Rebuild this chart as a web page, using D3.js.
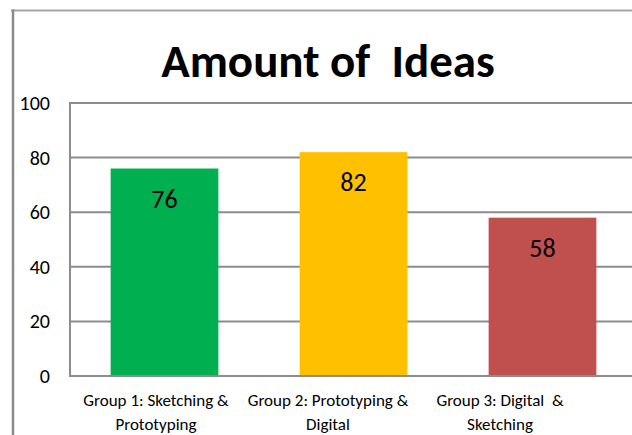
<!DOCTYPE html>
<html><head><meta charset="utf-8">
<script src="https://cdn.jsdelivr.net/npm/d3@7"></script>
<style>
html,body{margin:0;padding:0;background:#fff;overflow:hidden;}
svg{display:block;}
</style></head>
<body>
<svg id="c" width="632" height="435"></svg>
<script>
const categories = ["Group 1: Sketching & Prototyping", "Group 2: Prototyping & Digital", "Group 3: Digital  & Sketching"];
const labelLines = [["Group 1: Sketching &", "Prototyping"], ["Group 2: Prototyping &", "Digital"], ["Group 3: Digital  &", "Sketching"]];
const values = [76, 82, 58];
const colors = ["#00B050", "#FFC000", "#C0504D"];
const yTicks = [0, 20, 40, 60, 80, 100];
const title = "Amount of  Ideas";

const svg = d3.select("#c");
const font = "Carlito, Calibri, 'Open Sans', 'Liberation Sans', sans-serif";

// outer chart border
svg.append("line").attr("x1", 11).attr("x2", 632).attr("y1", 10.5).attr("y2", 10.5)
  .attr("stroke", "#a6a6a6").attr("stroke-width", 2);
svg.append("line").attr("x1", 13).attr("x2", 13).attr("y1", 9.5).attr("y2", 435)
  .attr("stroke", "#8a8a8a").attr("stroke-width", 2.5);

const plot = {left: 70, top: 103, right: 637, bottom: 376};
const x = d3.scaleBand().domain(categories).range([plot.left, plot.right]).paddingInner(0.43).paddingOuter(0.215);
// category labels sit on a narrower band (as in the original cropped chart)
const xl = d3.scaleBand().domain(categories).range([plot.left, 586]);
const y = d3.scaleLinear().domain([0, 100]).range([plot.bottom, plot.top]);

// gridlines
svg.append("g").selectAll("line").data(yTicks).join("line")
  .attr("x1", plot.left).attr("x2", 632)
  .attr("y1", d => y(d)).attr("y2", d => y(d))
  .attr("stroke", "#8c8c8c").attr("stroke-width", 2);
// plot left border
svg.append("line").attr("x1", plot.left).attr("x2", plot.left).attr("y1", plot.top - 1).attr("y2", plot.bottom + 1)
  .attr("stroke", "#8c8c8c").attr("stroke-width", 2);

// y tick labels
svg.append("g").selectAll("text").data(yTicks).join("text")
  .attr("x", 50).attr("y", d => y(d)).attr("dy", "0.35em")
  .attr("text-anchor", "end").attr("font-family", font).attr("font-size", 20).attr("fill", "#000")
  .text(d => d);

// bars
svg.append("g").selectAll("rect").data(values).join("rect")
  .attr("x", (d, i) => x(categories[i])).attr("width", x.bandwidth())
  .attr("y", d => y(d)).attr("height", d => y(0) - y(d) - 1)
  .attr("fill", (d, i) => colors[i]);

// value labels
svg.append("g").selectAll("text").data(values).join("text")
  .attr("x", (d, i) => x(categories[i]) + x.bandwidth() / 2)
  .attr("y", d => y(d) + 30).attr("dy", "0.35em")
  .attr("text-anchor", "middle").attr("font-family", font).attr("font-size", 26).attr("fill", "#000")
  .text(d => d);

// category labels
const cl = svg.append("g").selectAll("text").data(categories).join("text")
  .attr("x", d => xl(d) + xl.bandwidth() / 2)
  .attr("y", 400)
  .attr("text-anchor", "middle").attr("font-family", font).attr("font-size", 17).attr("fill", "#000");
cl.each(function(d, i) {
  const t = d3.select(this);
  labelLines[i].forEach((ln, j) => {
    t.append("tspan").attr("x", xl(d) + xl.bandwidth() / 2).attr("dy", j === 0 ? "0.35em" : 24).attr("xml:space", "preserve").text(ln);
  });
});

// title
svg.append("text").attr("x", 328).attr("y", 61).attr("dy", "0.35em")
  .attr("text-anchor", "middle").attr("font-family", font).attr("font-weight", "bold")
  .attr("font-size", 47).attr("fill", "#000").attr("xml:space", "preserve").text(title);
</script>
</body></html>
